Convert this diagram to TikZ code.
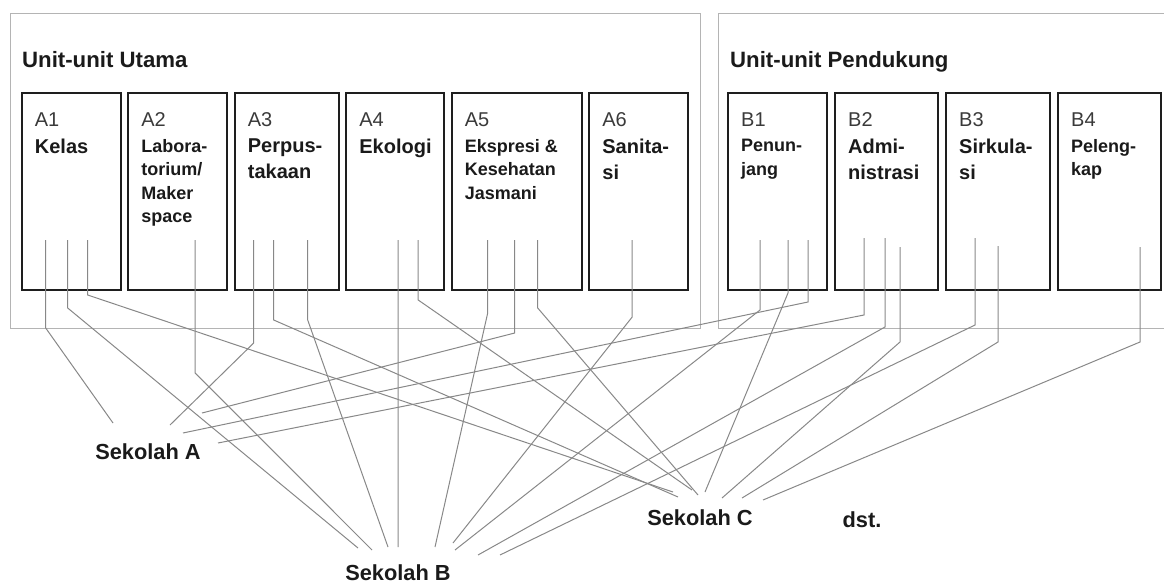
\documentclass[tikz,border=0pt]{standalone}
\usepackage{fontspec}
\setmainfont{Liberation Sans}
\usetikzlibrary{positioning}
\definecolor{boxline}{HTML}{1E1E1E}
\definecolor{groupline}{HTML}{B4B4B4}
\definecolor{linkcol}{HTML}{888888}
\definecolor{codetext}{HTML}{3A3A3A}
\definecolor{nametext}{HTML}{1A1A1A}

\begin{document}
\begin{tikzpicture}[x=1pt, y=-1pt,
  grp/.style={draw=groupline, line width=1.2pt, anchor=north west, minimum height=315pt, inner sep=0pt},
  grptitle/.style={anchor=base west, inner sep=0pt, text=nametext, font=\fontsize{22.2}{26}\selectfont\bfseries},
  unitbox/.style={draw=boxline, line width=1.8pt, minimum height=197pt, outer sep=0pt, inner sep=0pt},
  unitcode/.style={anchor=base west, inner sep=0pt, text=codetext, font=\fontsize{20}{24}\selectfont},
  unitname/.style={anchor=north west, inner sep=0pt, align=left, text=nametext, font=\fontsize{20}{26}\selectfont\bfseries},
  smallname/.style={unitname, font=\fontsize{18}{23.5}\selectfont\bfseries},
  school/.style={anchor=base, inner sep=0pt, text=nametext, font=\fontsize{21.8}{25}\selectfont\bfseries},
  link/.style={draw=linkcol, line width=1pt}]

\useasboundingbox (0,0) rectangle (1164,583);
\clip (0,0) rectangle (1164,583);

% the two groups
\node[grp, minimum width=690pt] (utama) at (10,13) {};
\node[grp, minimum width=460pt] (pendukung) at (718,13) {};
\node[grptitle] (utamat) at ([shift={(12,55)}]utama.north west) {Unit-unit Utama};
\node[grptitle] (pendukungt) at ([shift={(12,55)}]pendukung.north west) {Unit-unit Pendukung};

% Row A
\node[unitbox, anchor=north west, minimum width=99pt] (a1) at (21.7,93) {};
\node[unitbox, minimum width=99pt, right=7.5pt of a1] (a2) {};
\node[unitbox, minimum width=104pt, right=7.5pt of a2] (a3) {};
\node[unitbox, minimum width=98pt, right=7.5pt of a3] (a4) {};
\node[unitbox, minimum width=130pt, right=7.5pt of a4] (a5) {};
\node[unitbox, minimum width=99pt, right=7.5pt of a5] (a6) {};

\node[unitcode] (a1c) at ([shift={(13,34)}]a1.north west) {A1};
\node[unitname] (a1n) at ([shift={(13,46)}]a1.north west) {Kelas};
\node[unitcode] (a2c) at ([shift={(13,34)}]a2.north west) {A2};
\node[smallname] (a2n) at ([shift={(13,46)}]a2.north west) {Labora-\\torium/\\Maker\\space};
\node[unitcode] (a3c) at ([shift={(13,34)}]a3.north west) {A3};
\node[unitname] (a3n) at ([shift={(13,46)}]a3.north west) {Perpus-\\takaan};
\node[unitcode] (a4c) at ([shift={(13,34)}]a4.north west) {A4};
\node[unitname] (a4n) at ([shift={(13,46)}]a4.north west) {Ekologi};
\node[unitcode] (a5c) at ([shift={(13,34)}]a5.north west) {A5};
\node[smallname] (a5n) at ([shift={(13,46)}]a5.north west) {Ekspresi \&\\Kesehatan\\Jasmani};
\node[unitcode] (a6c) at ([shift={(13,34)}]a6.north west) {A6};
\node[unitname] (a6n) at ([shift={(13,46)}]a6.north west) {Sanita-\\si};

% Row B
\node[unitbox, anchor=north west, minimum width=99pt] (b1) at (728,93) {};
\node[unitbox, minimum width=103pt, right=8pt of b1] (b2) {};
\node[unitbox, minimum width=104pt, right=8pt of b2] (b3) {};
\node[unitbox, minimum width=103pt, right=8pt of b3] (b4) {};

\node[unitcode] (b1c) at ([shift={(13,34)}]b1.north west) {B1};
\node[smallname] (b1n) at ([shift={(13,46)}]b1.north west) {Penun-\\jang};
\node[unitcode] (b2c) at ([shift={(13,34)}]b2.north west) {B2};
\node[unitname] (b2n) at ([shift={(13,46)}]b2.north west) {Admi-\\nistrasi};
\node[unitcode] (b3c) at ([shift={(13,34)}]b3.north west) {B3};
\node[unitname] (b3n) at ([shift={(13,46)}]b3.north west) {Sirkula-\\si};
\node[unitcode] (b4c) at ([shift={(13,34)}]b4.north west) {B4};
\node[smallname] (b4n) at ([shift={(13,46)}]b4.north west) {Peleng-\\kap};

% schools
\node[school] (sekA) at (148,459) {Sekolah A};
\node[school] (sekB) at (398,580) {Sekolah B};
\node[school] (sekC) at (700,525) {Sekolah C};
\node[school] (dst) at (862,527) {dst.};

% A1
\draw[link] ([shift={(24,-50)}]a1.south west) -- ++(0,88) -- ([shift={(-35,-36)}]sekA.base);
\draw[link] ([shift={(46,-50)}]a1.south west) -- ++(0,68) -- ([shift={(-40,-32)}]sekB.base);
\draw[link] ([shift={(66,-50)}]a1.south west) -- ++(0,55) -- ([shift={(-27,-33)}]sekC.base);
% A2
\draw[link] ([shift={(67,-50)}]a2.south west) -- ++(0,133) -- ([shift={(-26,-30)}]sekB.base);
% A3
\draw[link] ([shift={(19,-50)}]a3.south west) -- ++(0,103) -- ([shift={(22,-34)}]sekA.base);
\draw[link] ([shift={(39,-50)}]a3.south west) -- ++(0,80) -- ([shift={(-22,-28)}]sekC.base);
\draw[link] ([shift={(73,-50)}]a3.south west) -- ++(0,80) -- ([shift={(-10,-33)}]sekB.base);
% A4
\draw[link] ([shift={(52,-50)}]a4.south west) -- ([shift={(0,-33)}]sekB.base);
\draw[link] ([shift={(72,-50)}]a4.south west) -- ++(0,60) -- ([shift={(-8,-35)}]sekC.base);
% A5
\draw[link] ([shift={(36,-50)}]a5.south west) -- ++(0,73) -- ([shift={(37,-33)}]sekB.base);
\draw[link] ([shift={(63,-50)}]a5.south west) -- ++(0,93) -- ([shift={(54,-46)}]sekA.base);
\draw[link] ([shift={(86,-50)}]a5.south west) -- ++(0,68) -- ([shift={(-2,-30)}]sekC.base);
% A6
\draw[link] ([shift={(43,-50)}]a6.south west) -- ++(0,77) -- ([shift={(55,-37)}]sekB.base);
% B1
\draw[link] ([shift={(32,-50)}]b1.south west) -- ++(0,70) -- ([shift={(57,-30)}]sekB.base);
\draw[link] ([shift={(60,-50)}]b1.south west) -- ++(0,53) -- ([shift={(5,-33)}]sekC.base);
\draw[link] ([shift={(80,-50)}]b1.south west) -- ++(0,62) -- ([shift={(35,-26)}]sekA.base);
% B2
\draw[link] ([shift={(29,-52)}]b2.south west) -- ++(0,77) -- ([shift={(70,-16)}]sekA.base);
\draw[link] ([shift={(50,-52)}]b2.south west) -- ++(0,89) -- ([shift={(80,-25)}]sekB.base);
\draw[link] ([shift={(65,-43)}]b2.south west) -- ++(0,95) -- ([shift={(22,-27)}]sekC.base);
% B3
\draw[link] ([shift={(29,-52)}]b3.south west) -- ++(0,87) -- ([shift={(102,-25)}]sekB.base);
\draw[link] ([shift={(52,-44)}]b3.south west) -- ++(0,96) -- ([shift={(42,-27)}]sekC.base);
% B4
\draw[link] ([shift={(82,-43)}]b4.south west) -- ++(0,95) -- ([shift={(63,-25)}]sekC.base);
\end{tikzpicture}
\end{document}
